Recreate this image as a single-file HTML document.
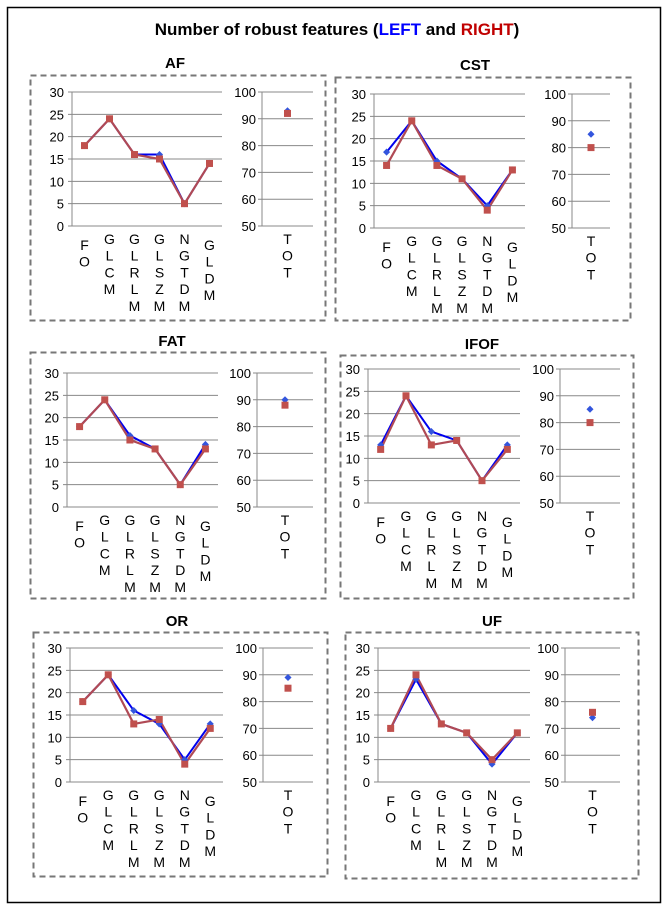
<!DOCTYPE html>
<html><head><meta charset="utf-8"><style>
body{margin:0;background:#fff;width:672px;height:910px;overflow:hidden}
svg{display:block}
</style></head><body>
<svg id="c" width="672" height="910" xmlns="http://www.w3.org/2000/svg">
<rect x="7.5" y="7.5" width="653" height="895" fill="#fff" stroke="#000" stroke-width="1.5"/>
<text x="337" y="35" text-anchor="middle" font-family="Liberation Sans, sans-serif" font-weight="bold" font-size="17">Number of robust features (<tspan fill="#0000ff">LEFT</tspan> and <tspan fill="#c00000">RIGHT</tspan>)</text>
</svg>
<script>
const categories=["FO","GLCM","GLRLM","GLSZM","NGTDM","GLDM"];
const panelNames=["AF","CST","FAT","IFOF","OR","UF"];
const leftAF=[18,24,16,16,5,14], rightAF=[18,24,16,15,5,14];
const leftCST=[17,24,15,11,5,13], rightCST=[14,24,14,11,4,13];
const leftFAT=[18,24,16,13,5,14], rightFAT=[18,24,15,13,5,13];
const leftIFOF=[13,24,16,14,5,13], rightIFOF=[12,24,13,14,5,12];
const leftOR=[18,24,16,13,5,13], rightOR=[18,24,13,14,4,12];
const leftUF=[12,23,13,11,4,11], rightUF=[12,24,13,11,5,11];
const totLeft=[93,85,90,85,89,74];
const totRight=[92,80,88,80,85,76];
const yTicks=[0,5,10,15,20,25,30];
const totTicks=[50,60,70,80,90,100];
const leftSeries=[leftAF,leftCST,leftFAT,leftIFOF,leftOR,leftUF];
const rightSeries=[rightAF,rightCST,rightFAT,rightIFOF,rightOR,rightUF];

const layout=[
 {bx:30,by:75,bw:295,bh:245,tx:175,ty:68,x0:72,x1:222,yt:92,yb:226,rx0:262,rx1:313},
 {bx:335,by:77,bw:295,bh:243,tx:475,ty:70,x0:374,x1:525,yt:94,yb:228,rx0:572,rx1:610},
 {bx:30,by:352,bw:295,bh:246,tx:172,ty:346,x0:67,x1:218,yt:373,yb:507,rx0:257,rx1:313},
 {bx:340,by:355,bw:293,bh:243,tx:482,ty:349,x0:368,x1:520,yt:369,yb:503,rx0:560,rx1:620},
 {bx:33,by:632,bw:294,bh:244,tx:177,ty:626,x0:70,x1:223,yt:648,yb:782,rx0:263,rx1:313},
 {bx:345,by:632,bw:293,bh:246,tx:492,ty:626,x0:378,x1:530,yt:648,yb:782,rx0:565,rx1:620}
];
const svg=document.getElementById('c');
const NS="http://www.w3.org/2000/svg";
function mk(tag,attrs,parent){const e=document.createElementNS(NS,tag);for(const k in attrs)e.setAttribute(k,attrs[k]);(parent||svg).appendChild(e);return e;}
const F="Liberation Sans, sans-serif";
const LH=16.7;
panelNames.forEach((name,i)=>{
  const L=layout[i];
  const g=mk('g',{});
  
  
  const box=mk('rect',{x:L.bx+.5,y:L.by+.5,width:L.bw,height:L.bh,fill:'none',stroke:'#777','stroke-width':2,'stroke-dasharray':'6,4'},g);
  
  
  const t=mk('text',{x:L.tx,y:L.ty,'text-anchor':'middle','font-family':F,'font-weight':'bold','font-size':15},g);
  t.textContent=name;
  
  
  const ys=v=>L.yb-(v-0)/30*(L.yb-L.yt);
  const xs=j=>L.x0+(j+0.5)*(L.x1-L.x0)/categories.length;
  const yr=v=>L.yb-(v-50)/50*(L.yb-L.yt);
  const xr=(L.rx0+L.rx1)/2;
  yTicks.forEach(v=>{
    mk('line',{x1:L.x0-4,x2:L.x1,y1:ys(v),y2:ys(v),stroke:'#888','stroke-width':1},g);
    const tl=mk('text',{x:L.x0-8,y:ys(v)+5,'text-anchor':'end','font-family':F,'font-size':13},g);
    tl.textContent=v;
    
    
  });
  mk('line',{x1:L.x0,x2:L.x0,y1:L.yt,y2:L.yb,stroke:'#888'},g);
  totTicks.forEach(v=>{
    mk('line',{x1:L.rx0-4,x2:L.rx1,y1:yr(v),y2:yr(v),stroke:'#888'},g);
    const tl=mk('text',{x:L.rx0-6,y:yr(v)+5,'text-anchor':'end','font-family':F,'font-size':13},g);
    tl.textContent=v;
    
    
  });
  mk('line',{x1:L.rx0,x2:L.rx0,y1:L.yt,y2:L.yb,stroke:'#888'},g);
  categories.forEach((c,j)=>{
    const off=(j===0||j===5)?6:0;
    [...c].forEach((ch,k)=>{
      const lt=mk('text',{x:xs(j),y:L.yb+18+off+k*LH,'text-anchor':'middle','font-family':F,'font-size':14},g);
      lt.textContent=ch;
      
      
    });
  });
  [..."TOT"].forEach((ch,k)=>{
    const lt=mk('text',{x:xr,y:L.yb+18+k*LH,'text-anchor':'middle','font-family':F,'font-size':14},g);
    lt.textContent=ch;
    
    
  });
  const lv=leftSeries[i], rv=rightSeries[i];
  const lp=mk('polyline',{points:lv.map((v,j)=>xs(j)+','+ys(v)).join(' '),fill:'none',stroke:'#0000ee','stroke-width':2},g);
  
  
  const rp=mk('polyline',{points:rv.map((v,j)=>xs(j)+','+ys(v)).join(' '),fill:'none',stroke:'#b04a55','stroke-width':2.2},g);
  
  
  lv.forEach((v,j)=>{
    const d=mk('rect',{x:xs(j)-2.5,y:ys(v)-2.5,width:5,height:5,fill:'#3355dd',transform:`rotate(45 ${xs(j)} ${ys(v)})`},g);
    
    
  });
  rv.forEach((v,j)=>{
    const s=mk('rect',{x:xs(j)-3.5,y:ys(v)-3.5,width:7,height:7,fill:'#c0504d'},g);
    
    
  });
  const td=mk('rect',{x:xr-2.5,y:yr(totLeft[i])-2.5,width:5,height:5,fill:'#3355dd',transform:`rotate(45 ${xr} ${yr(totLeft[i])})`},g);
  
  
  const ts=mk('rect',{x:xr-3.5,y:yr(totRight[i])-3.5,width:7,height:7,fill:'#c0504d'},g);
  
  
});
</script>
</body></html>
